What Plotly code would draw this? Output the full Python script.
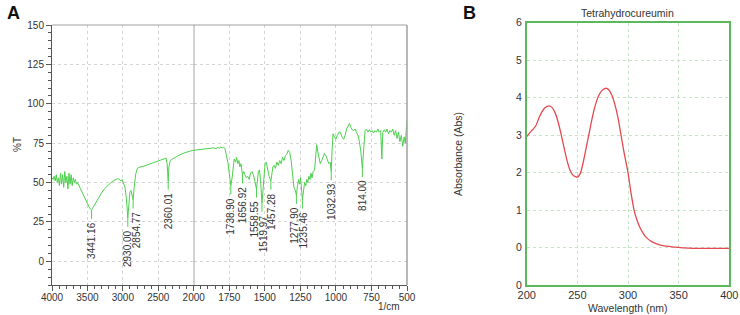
import numpy as np
import plotly.graph_objects as go

# ---------------- data ----------------
# FTIR spectrum, 4000-2000 1/cm segment
ir_wn_hi = [4000, 3985, 3970, 3955, 3940, 3925, 3910, 3895, 3880, 3865, 3850, 3835, 3820,
            3805, 3790, 3775, 3760, 3745, 3730, 3715, 3700, 3685, 3670, 3655, 3640, 3620,
            3600, 3580, 3560, 3540, 3520, 3500, 3470, 3450, 3441.16, 3430, 3400, 3370, 3340,
            3300, 3260, 3220, 3180, 3140, 3100, 3070, 3050, 3030, 3010, 2990, 2970, 2950,
            2930.00, 2915, 2900, 2885, 2870, 2854.77, 2840, 2820, 2800, 2780, 2700, 2600,
            2500, 2420, 2390, 2375, 2360.01, 2350, 2340, 2330, 2300, 2250, 2200, 2150, 2100,
            2050, 2000]
ir_t_hi = [53, 52, 54, 51, 55, 50, 53, 48, 56, 49, 55, 47, 57,
           50, 54, 46, 56, 49, 55, 48, 53, 50, 52, 49, 50, 48,
           46, 45, 43, 41, 38, 36, 34, 33, 32.5, 33.5, 36, 38.5, 41,
           43.5, 46, 48, 49.5, 51, 52, 52.5, 52, 51, 52, 50, 47, 40,
           27.5, 36, 44, 45, 42, 39, 47, 55, 58.5, 59.5, 60.5, 62,
           63.5, 65, 65.5, 62, 51, 60, 62, 64, 65, 66.5, 67.5, 68.5, 69.5,
           70, 70.5]

# FTIR spectrum, 2000-500 1/cm segment
ir_wn_lo = [2000, 1950, 1900, 1860, 1840, 1830, 1820, 1810, 1800, 1790, 1780, 1770, 1760,
            1750, 1738.90, 1730, 1722, 1715, 1705, 1698, 1690, 1682, 1675, 1668, 1656.92,
            1648, 1640, 1630, 1620, 1610, 1600, 1590, 1580, 1570, 1558.55, 1552, 1545, 1538,
            1530, 1519.97, 1512, 1505, 1498, 1490, 1480, 1470, 1457.28, 1450, 1443, 1435,
            1425, 1415, 1405, 1395, 1385, 1375, 1365, 1355, 1345, 1335, 1325, 1315, 1305,
            1295, 1285, 1277.90, 1270, 1262, 1255, 1248, 1235.46, 1228, 1220, 1212, 1205,
            1198, 1190, 1182, 1175, 1168, 1160, 1150, 1140, 1135, 1128, 1120, 1110, 1100,
            1090, 1080, 1070, 1060, 1050, 1040, 1032.93, 1027, 1020, 1010, 1000, 990, 978,
            968, 958, 945, 935, 925, 915, 905, 895, 885, 875, 865, 855, 845, 835, 825,
            814.00, 805, 795, 785, 775, 765, 755, 745, 735, 725, 715, 705, 695, 685, 677,
            670, 660, 650, 640, 630, 620, 610, 600, 590, 580, 570, 560, 550, 540, 530, 520,
            512, 505, 500]
ir_t_lo = [70.5, 71, 71.5, 72, 71.5, 72.5, 71.5, 72.8, 71.8, 72.6, 71.5, 68, 63,
           56, 48, 53, 60, 65, 63, 66, 62, 64, 60, 62, 55,
           57, 55, 53, 54, 52, 56, 57, 55, 51, 46, 51, 57, 58,
           52, 37, 48, 58, 62, 63, 58, 54, 51, 56, 60, 61,
           59, 63, 61, 64, 62, 66, 64, 67, 68, 70.5, 69, 64, 55,
           47, 45, 42, 48, 52, 49, 53, 39, 46, 50, 48, 52,
           50, 54, 52, 56, 53, 57, 58, 70, 74, 70, 65, 62, 64,
           66, 68.5, 67, 64, 62, 63, 57, 70, 81, 79, 77.5, 80, 82,
           82, 79, 77.5, 80, 84, 86, 87.5, 85, 83.5, 83, 84, 82, 80, 76, 70,
           59, 72, 83, 84, 82, 83.5, 82, 83, 81.5, 83, 82, 84, 82, 83, 65,
           82, 83.5, 82, 84, 81, 83, 82, 84, 80, 83, 78, 82, 76, 80, 73, 79,
           75, 85, 90]

peak_wn = [3441.16, 2930.00, 2854.77, 2360.01, 1738.90, 1656.92, 1558.55,
           1519.97, 1457.28, 1277.90, 1235.46, 1032.93, 814.00]
peak_labels = ["3441.16", "2930.00", "2854.77", "2360.01", "1738.90", "1656.92", "1558.55",
               "1519.97", "1457.28", "1277.90", "1235.46", "1032.93", "814.00"]

ir_x_ticks_hi = [4000, 3500, 3000, 2500]
ir_x_ticks_lo = [2000, 1750, 1500, 1250, 1000, 750, 500]
ir_y_ticks = [0, 25, 50, 75, 100, 125, 150]

# UV-Vis spectrum
uv_nm = [200, 203, 206, 209, 212, 215, 218, 222, 225, 228, 231, 234, 237, 240, 243, 246,
         250, 253, 256, 259, 262, 265, 268, 271, 274, 277, 279, 281, 284, 287, 290, 293,
         296, 300, 303, 306, 309, 312, 315, 318, 322, 327, 333, 340, 347, 355, 365, 380, 400]
uv_abs = [2.96, 3.06, 3.15, 3.25, 3.45, 3.62, 3.73, 3.78, 3.74, 3.6, 3.35, 3.02, 2.65, 2.3, 2.05, 1.92,
          1.88, 1.98, 2.3, 2.7, 3.1, 3.5, 3.82, 4.05, 4.18, 4.24, 4.25, 4.21, 4.07, 3.82, 3.48, 3.02,
          2.55, 2.0, 1.45, 1.0, 0.72, 0.52, 0.38, 0.27, 0.18, 0.11, 0.06, 0.03, 0.01, -0.01, -0.02, -0.02, -0.02]
uv_x_ticks = [200, 250, 300, 350, 400]
uv_y_ticks = [-1, 0, 1, 2, 3, 4, 5, 6]
uv_y_ticktext = ["0", "0", "1", "2", "3", "4", "5", "6"]

# ---------------- figure ----------------
W, H = 740, 315
FONT = "Arial, Liberation Sans, sans-serif"
IR_GREEN = "#4ccf4c"
UV_RED = "#e5484d"


def px(x):
    return x / W


def py(y):
    return 1 - y / H


fig = go.Figure()

fig.add_trace(go.Scatter(x=ir_wn_hi, y=ir_t_hi, xaxis="x", yaxis="y", mode="lines",
                         line=dict(color=IR_GREEN, width=1), showlegend=False, hoverinfo="skip"))
fig.add_trace(go.Scatter(x=ir_wn_lo, y=ir_t_lo, xaxis="x2", yaxis="y2", mode="lines",
                         line=dict(color=IR_GREEN, width=1), showlegend=False, hoverinfo="skip"))

# peak marker ticks & labels
all_wn = np.array(ir_wn_hi[::-1] + ir_wn_lo[::-1])
all_t = np.array(ir_t_hi[::-1] + ir_t_lo[::-1])
order = np.argsort(all_wn)
all_wn, all_t = all_wn[order], all_t[order]
GAP = 5.5
tick_hi_x, tick_hi_y, tick_lo_x, tick_lo_y = [], [], [], []
xshift = {"2930.00": -1, "2854.77": 3, "1558.55": -2, "1519.97": 1,
          "1277.90": -2, "1235.46": 1}
for wn, lab in zip(peak_wn, peak_labels):
    t = float(np.interp(wn, all_wn, all_t))
    if wn > 2000:
        tick_hi_x += [wn, wn, None]
        tick_hi_y += [t, t - GAP, None]
        xr, yr = "x", "y"
    else:
        tick_lo_x += [wn, wn, None]
        tick_lo_y += [t, t - GAP, None]
        xr, yr = "x2", "y2"
    fig.add_annotation(x=wn, y=t - GAP, xref=xr, yref=yr, text=lab, textangle=-90,
                       showarrow=False, xanchor="center", yanchor="top",
                       xshift=xshift.get(lab, 0), yshift=-1,
                       font=dict(size=10, color="#333", family=FONT))
fig.add_trace(go.Scatter(x=tick_hi_x, y=tick_hi_y, xaxis="x", yaxis="y", mode="lines",
                         line=dict(color=IR_GREEN, width=1), showlegend=False, hoverinfo="skip"))
fig.add_trace(go.Scatter(x=tick_lo_x, y=tick_lo_y, xaxis="x2", yaxis="y2", mode="lines",
                         line=dict(color=IR_GREEN, width=1), showlegend=False, hoverinfo="skip"))

fig.add_trace(go.Scatter(x=uv_nm, y=uv_abs, xaxis="x3", yaxis="y3", mode="lines",
                         line=dict(color=UV_RED, width=1.3, shape="spline", smoothing=0.6),
                         showlegend=False, hoverinfo="skip"))

ir_left, ir_mid, ir_right = 52, 193.7, 407
ir_top, ir_bot = 25, 285
uv_left, uv_right, uv_top, uv_bot = 526.7, 729.3, 22.7, 285

GRID = "#d4d4d4"
AX = "#555555"
tickfont_ir = dict(size=10, color="#333", family=FONT)
tickfont_uv = dict(size=11, color="#333", family=FONT)

common_ir_x = dict(showline=True, linecolor=AX, linewidth=1, ticks="outside", ticklen=5,
                   tickcolor=AX, showgrid=True, gridcolor=GRID, griddash="dot", gridwidth=1,
                   zeroline=False, tickfont=tickfont_ir, automargin=False,
                   ticklabelstandoff=-2)

fig.update_layout(
    width=W, height=H, margin=dict(l=0, r=0, t=0, b=0), autosize=False,
    paper_bgcolor="white", plot_bgcolor="white", template="none",
    font=dict(family=FONT, size=10, color="#333"),
    xaxis=dict(domain=[px(ir_left), px(ir_mid)], anchor="y", range=[4000, 2000],
               tickmode="array", tickvals=ir_x_ticks_hi,
               minor=dict(tickmode="linear", tick0=0, dtick=100, ticks="outside", ticklen=3,
                          tickcolor=AX, showgrid=False),
               **common_ir_x),
    xaxis2=dict(domain=[px(ir_mid), px(ir_right)], anchor="y2", range=[2000, 500],
                tickmode="array", tickvals=ir_x_ticks_lo,
                minor=dict(tickmode="linear", tick0=0, dtick=50, ticks="outside", ticklen=3,
                           tickcolor=AX, showgrid=False),
                **common_ir_x),
    yaxis=dict(domain=[py(ir_bot), py(ir_top)], anchor="x", range=[-15, 150],
               tickmode="array", tickvals=ir_y_ticks,
               minor=dict(tickmode="linear", tick0=0, dtick=5, ticks="outside", ticklen=3,
                          tickcolor=AX, showgrid=False),
               showline=True, linecolor=AX, linewidth=1, ticks="outside", ticklen=5,
               tickcolor=AX, showgrid=True, gridcolor=GRID, griddash="dot",
               zeroline=False, tickfont=tickfont_ir, automargin=False),
    yaxis2=dict(domain=[py(ir_bot), py(ir_top)], anchor="x2", range=[-15, 150],
                matches="y", tickmode="array", tickvals=ir_y_ticks, showticklabels=False,
                ticks="", showline=False, showgrid=True, gridcolor=GRID, griddash="dot",
                zeroline=False, automargin=False),
    xaxis3=dict(domain=[px(uv_left), px(uv_right)], anchor="y3", range=[200, 400],
                tickmode="array", tickvals=uv_x_ticks, showline=True, mirror=True,
                linecolor="#5cb85c", linewidth=1.5, ticks="", showgrid=True,
                gridcolor="#c5e3c5", griddash="dot", zeroline=False, tickfont=tickfont_uv,
                automargin=False, ticklabelstandoff=-1),
    yaxis3=dict(domain=[py(uv_bot), py(uv_top)], anchor="x3", range=[-1, 6],
                tickmode="array", tickvals=uv_y_ticks, ticktext=uv_y_ticktext,
                showline=True, mirror=True, linecolor="#5cb85c", linewidth=1.5, ticks="",
                showgrid=True, gridcolor="#c5e3c5", griddash="dot", zeroline=False,
                tickfont=dict(size=10.5, color="#333", family=FONT), automargin=False,
                ticklabelstandoff=1),
)

# IR frame (top / right) and the scale break line at 2000 1/cm
fig.add_shape(type="line", xref="paper", yref="paper", x0=px(ir_left), x1=px(ir_right),
              y0=py(ir_top), y1=py(ir_top), line=dict(color="#a0a0a0", width=1))
fig.add_shape(type="line", xref="paper", yref="paper", x0=px(ir_right), x1=px(ir_right),
              y0=py(ir_bot), y1=py(ir_top), line=dict(color="#a0a0a0", width=1.5))
fig.add_shape(type="line", xref="x2", yref="paper", x0=2000, x1=2000,
              y0=py(ir_bot), y1=py(ir_top), line=dict(color="#666666", width=1.2))


def label(text, x, y, size, angle=0, color="#333"):
    fig.add_annotation(text=text, x=px(x), y=py(y), xref="paper", yref="paper",
                       xanchor="center", yanchor="middle", textangle=angle,
                       showarrow=False, font=dict(size=size, color=color, family=FONT))


label("%T", 18, 145, 10, -90)
label("1/cm", 389, 306, 10)
label("<b>A</b>", 13, 13, 18, color="#111")
label("<b>B</b>", 470, 13, 18, color="#111")
label("Tetrahydrocureumin", 627, 13, 10.5)
label("Absorbance (Abs)", 458, 154, 10.5, -90)
label("Wavelength (nm)", 628, 307.5, 10.5)

# let the figure sit at the page's top-left corner (no default body margin)
fig.write_html("out.html", config={"displayModeBar": False},
               post_script="document.body.style.margin='0px';document.body.style.overflow='hidden';")
